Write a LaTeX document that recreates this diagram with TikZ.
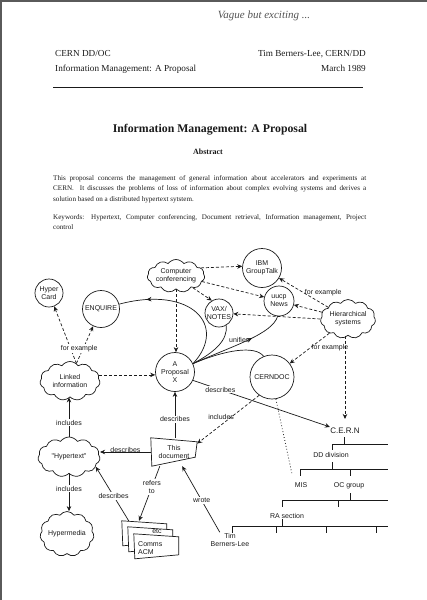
\documentclass[tikz,border=0pt]{standalone}
\usepackage{fontspec}
\setmainfont{Liberation Serif}
\newfontfamily\diagsans{Liberation Sans}
\usepackage{tikz}
\usetikzlibrary{arrows.meta,positioning,shapes.symbols,calc,decorations.markings}
\definecolor{ink}{HTML}{1A1A1A}
\definecolor{scanedge}{HTML}{5A5A5A}
\newcommand{\sketchfont}{\fontsize{7}{8}\selectfont\diagsans}
\tikzset{
  hdr/.style={font=\fontsize{9.2}{11}\selectfont, text=ink, inner sep=0pt},
  ring/.style={circle, draw=ink, line width=0.7pt, inner sep=0pt, align=center, font=\sketchfont, text=ink},
  puff/.style={cloud, cloud puffs=11, cloud puff arc=110, cloud ignores aspect, draw=ink, line width=0.7pt,
               inner sep=0pt, align=center, font=\sketchfont, text=ink},
  lbl/.style={font=\sketchfont, text=ink, align=center, inner sep=1pt},
  sheet/.style={draw=ink, fill=white, line width=0.7pt},
  bond/.style={draw=ink, line width=0.7pt},
  link/.style={-{Stealth[length=5pt,width=4.5pt]}, draw=ink, line width=0.7pt},
  hint/.style={link, dash pattern=on 3pt off 2pt},
  dots/.style={draw=ink, line width=0.8pt, dash pattern=on 0.8pt off 2.2pt},
  tree/.style={draw=ink, line width=0.7pt},
  midtip/.style={postaction={decorate},
    decoration={markings, mark=at position #1 with {\arrow{Stealth[length=5pt,width=4.5pt]}}}}
}

\begin{document}
\begin{tikzpicture}[x=1pt, y=-1pt]
 \useasboundingbox (0,0) rectangle (427,600);
 \draw[scanedge, line width=1.5pt] (0.75,600) -- (0.75,0.75) -- (427,0.75);
 % page head
 \node[font=\fontsize{11}{13}\selectfont\itshape, text=ink!75] (note) at (264,16) {Vague but exciting ...};
 \node[hdr, anchor=base west] (dept) at (55,56) {CERN DD/OC};
 \node[hdr, anchor=base east] (author) at (366,56) {Tim Berners-Lee, CERN/DD};
 \node[hdr, anchor=base west] (subj) at (55,71.5) {Information Management: A Proposal};
 \node[hdr, anchor=base east] (date) at (366,71.5) {March 1989};
 \draw[ink, line width=0.6pt] (53,87) -- (363,87);
 \node[font=\fontsize{11.8}{14}\selectfont\bfseries, text=ink, anchor=base] (title) at (210,132.5) {Information Management: A Proposal};
 \node[font=\fontsize{8}{10}\selectfont\bfseries, text=ink, anchor=base] (abs) at (208,154) {Abstract};
 \node[text width=313pt, align=justify, anchor=north west, inner sep=0pt, text=ink,
       font=\fontsize{7.1}{10.5}\selectfont] (body) at (53,175)
   {This proposal concerns the management of general information about accelerators and experiments at\linebreak
    CERN.\ \ It discusses the problems of loss of information about complex evolving systems and derives a\linebreak
    solution based on a distributed hypertext sytstem.};
 \node[text width=313pt, align=justify, anchor=north west, inner sep=0pt, text=ink,
       font=\fontsize{7.1}{10.5}\selectfont] (keys) at (53,214)
   {Keywords: Hypertext, Computer conferencing, Document retrieval, Information management, Project\linebreak control};

 % the diagram
 \node[ring, minimum size=28] (hcard) at (49,293) {Hyper\\Card};
 \node[ring, minimum size=37] (enq) at (101,309) {ENQUIRE};
 \node[puff, minimum width=52, minimum height=33] (conf) at (176,276) {Computer\\conferencing};
 \node[ring, minimum size=39] (ibm) at (262,268) {IBM\\GroupTalk};
 \node[ring, minimum size=30] (uucp) at (279,301) {uucp\\News};
 \node[ring, minimum size=28] (vax) at (219,313) {VAX/\\NOTES};
 \node[puff, minimum width=55, minimum height=39] (hier) at (348,319) {Hierarchical\\systems};
 \node[ring, minimum size=39] (prop) at (175,372) {A\\Proposal\\X};
 \node[ring, minimum size=44] (cdoc) at (272,377) {CERNDOC};
 \node[puff, minimum width=60, minimum height=39] (linked) at (70,381) {Linked\\information};
 \node[puff, minimum width=62, minimum height=40] (htext) at (69,457) {"Hypertext"};
 \node[puff, minimum width=54, minimum height=45] (hmedia) at (67,534) {Hypermedia};
 \node[lbl, minimum width=46, minimum height=28, inner sep=0pt] (doc) at (174,452) {This\\document};
 \draw[bond] (doc.north west) -- ($(doc.north east)+(0,4)$) -- ($(doc.south east)+(-2,-9)$)
   -- ($(doc.south west)+(1,0)$) -- cycle;
 \node[minimum width=57, minimum height=38, inner sep=0pt] (stack) at (150.5,540) {};
 \draw[sheet] (stack.north west) -- ++(45,3) -- ++(0,18) -- ++(-44,4) -- cycle;
 \draw[sheet] ($(stack.north west)+(6,6)$) -- ++(45,3) -- ++(0,18) -- ++(-44,4) -- cycle;
 \node[lbl] (etc) at (157,531.5) {etc};
 \draw[sheet] ($(stack.north west)+(12,13)$) -- ++(45,3) -- ++(0,18) -- ++(-44,4) -- cycle;
 \node[lbl, align=left, anchor=west] (acm) at (137,548) {Comms\\ACM};

 % the organisation tree
 \node[lbl, font=\fontsize{8}{9}\selectfont\diagsans] (cern) at (345,431) {C.E.R.N};
 \node[lbl] (dd) at (331,455) {DD division};
 \node[lbl] (mis) at (301,485) {MIS};
 \node[lbl] (oc) at (349,486) {OC group};
 \node[lbl] (ra) at (287,516) {RA section};
 \node[lbl] (tbl) at (230,540) {Tim\\Berners-Lee};
 \draw[tree] (344,437) -- (344,444) (332,444) -- (388,444) (332,444) -- (332,450)
   (332,462) -- (332,469) (300,469) -- (388,469) (300,469) -- (300,476) (350,469) -- (350,476)
   (350,493) -- (350,500) (282,500) -- (388,500) (282,500) -- (282,507) (338,500) -- (338,507)
   (282,519) -- (282,526) (232,526) -- (388,526) (232,526) -- (232,533) (276,526) -- (276,533)
   (326,526) -- (326,533) (376,526) -- (376,533);

 % dashed links
 \draw[hint] (conf.18) -- (ibm.175);
 \draw[hint] (conf.-12) -- (uucp.165);
 \draw[hint] (conf.-35) -- (vax.120);
 \draw[hint] (conf.south) -- (conf.south |- prop.north);
 \draw[hint] (hier) -- node[lbl, pos=0.5, right] {for example} (ibm);
 \draw[hint] (hier) -- (uucp);
 \draw[hint] (hier.west) -- (vax);
 \draw[hint] (hier) -- node[lbl, pos=0.48, right] {for example} (cdoc);
 \draw[hint, shorten >=8pt] (hier.south -| cern.north) -- (cern.north);
 \draw[hint] (linked.70) -- (hcard);
 \draw[hint] (linked.70) -- node[lbl, fill=white, pos=0.4, xshift=-4pt] {for example} (enq);
 \draw[hint] (linked.12) -- (linked.12 -| prop.west);
 \draw[hint] (cdoc.-125) -- node[lbl, pos=0.45, left=-4pt] {includes} (doc.20);
 \draw[dots, shorten >=8pt] (cdoc.-80) -- (mis.north west);

 % unifies
 \draw[bond, midtip=0.8] (prop.25) .. controls (228,326) and (192,285) .. (enq.15);
 \draw[bond] (prop.25) .. controls (215,352) and (228,340) .. (vax.-60);
 \draw[bond, midtip=0.65] (prop.25) .. controls (235,345) and (272,334) .. node[lbl, pos=0.4, above] {unifies} (uucp.-95);
 \draw[bond] (prop.25) .. controls (225,350) and (255,345) .. (cdoc.112);

 % solid links
 \draw[link] (prop.-25) -- node[lbl, fill=white, pos=0.2] {describes} (cern.165);
 \draw[link] (doc.north -| prop.south) -- node[lbl, fill=white, pos=0.4] {describes} (prop.south);
 \draw[link] (doc.west) -- node[lbl, above=-1.5pt] {describes} (doc.west -| htext.east);
 \draw[link] (doc.-135) -- node[lbl, fill=white, pos=0.38] {refers\\to} ($(stack.north west)!0.3!(stack.north east)$);
 \draw[link] ($(stack.north west)!0.12!(stack.north east)$) -- node[lbl, fill=white, pos=0.46] {describes} (htext.-20);
 \draw[link] ($(tbl.north west)!0.25!(tbl.north east)$) -- node[lbl, fill=white, pos=0.48] {wrote} (doc.-60);
 \draw[link] (htext.north) -- node[lbl, fill=white, pos=0.35] {includes} (htext.north |- linked.south);
 \draw[link] (htext.south) -- node[lbl, fill=white, pos=0.4] {includes} (htext.south |- hmedia.north);
\end{tikzpicture}
\end{document}
